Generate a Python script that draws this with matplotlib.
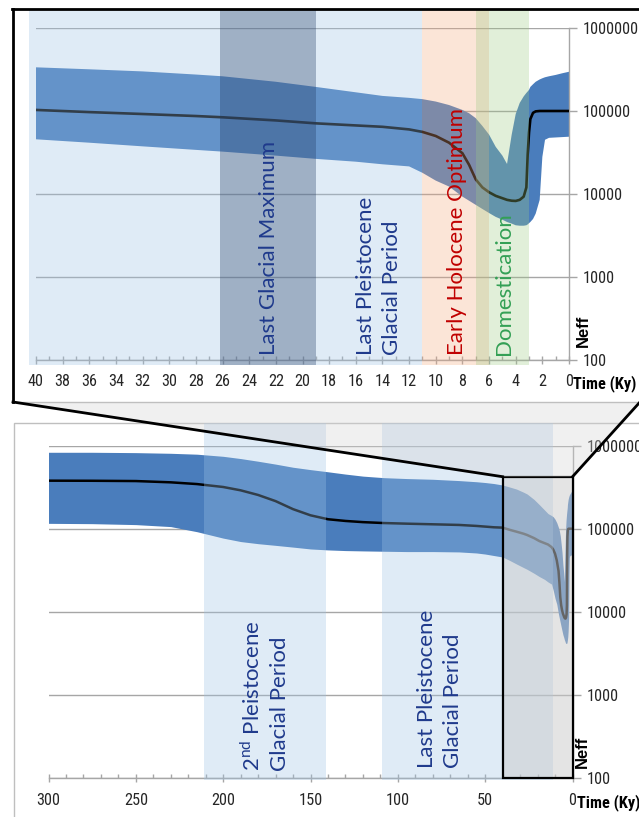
import numpy as np
import matplotlib
matplotlib.use("Agg")
import matplotlib.pyplot as plt
from matplotlib import font_manager
from matplotlib.patches import Rectangle, Polygon
from matplotlib.lines import Line2D
from matplotlib.ticker import FixedLocator, FixedFormatter, MultipleLocator, NullLocator

# ---------------------------------------------------------------- data
time_ky = [300, 275, 250, 230, 215, 200, 190, 180, 170, 160, 150, 140, 130, 120,
           108, 95, 80, 65, 55, 50, 45, 40, 36, 32, 28, 26, 22, 19, 16, 14, 12,
           11, 10, 9, 8, 7.5, 7, 6.5, 6, 5.5, 5, 4.65, 4.3, 4.0, 3.7, 3.4, 3.2,
           3.1, 3.0, 2.9, 2.7, 2.5, 2.2, 2.0, 1.8, 1.5, 1.0, 0.5, 0]

neff_mean = [379000, 378000, 375000, 362000, 345000, 318000, 290000, 255000,
             215000, 172000, 145000, 130000, 124000, 120000, 117000, 115000,
             113000, 111000, 108000, 106000, 104000, 103000, 97000, 92000,
             87000, 84000, 77000, 71000, 67000, 64500, 60000, 56000, 50000,
             41500, 31000, 22500, 15000, 12000, 10500, 9500, 8900, 8500, 8300,
             8250, 8500, 9300, 12000, 30000, 55000, 80000, 95000, 99000,
             100000, 100000, 100000, 100000, 100000, 100000, 100000]

neff_low = [116000, 115000, 112000, 106000, 92000, 77000, 70000, 66000, 63000,
            60000, 57000, 55500, 54500, 54000, 53500, 53000, 53000, 52500,
            51000, 49500, 47500, 45600, 41500, 37500, 34000, 32400, 29000,
            26500, 24500, 22800, 21500, 18000, 14500, 12300, 9300, 8300, 7400,
            6600, 5900, 5300, 4900, 4600, 4400, 4200, 4150, 4150, 4200, 4300,
            4450, 4600, 5000, 5800, 8500, 28000, 45000, 47500, 48000, 48500,
            49000]

neff_high = [833000, 833000, 825000, 810000, 790000, 745000, 700000, 650000,
             600000, 550000, 515000, 485000, 455000, 430000, 412000, 402000,
             394000, 380000, 368000, 360000, 350000, 336000, 318000, 300000,
             275000, 262000, 225000, 195000, 168000, 152000, 144000, 139000,
             130000, 118000, 103000, 94000, 82000, 66000, 52000, 37000, 29000,
             23000, 52000, 92000, 125000, 150000, 165000, 172000, 180000,
             195000, 210000, 225000, 240000, 248000, 255000, 262000, 272000,
             285000, 297000]

neff_ticks = [100, 1000, 10000, 100000, 1000000]
neff_tick_labels = ["100", "1000", "10000", "100000", "1000000"]

# climatic / cultural periods (ky before present)
glacial_2nd = (211, 141)
glacial_last = (109, 11)
glacial_last_zoom = (40.5, 11)
lgm = (26.2, 19)
holocene_opt = (11, 6)
domestication = (7, 3)
zoom_window = (40, 0)
zoom_window_top = 423000

# ---------------------------------------------------------------- style
W, H, DPI = 639, 817, 100
LABEL_FONT = ["Lato", "DejaVu Sans"]
plt.rcParams["mathtext.fontset"] = "custom"
plt.rcParams["mathtext.rm"] = "Lato"

# narrow face for axis numbers: use a true narrow/condensed face when present
_names = {f.name for f in font_manager.fontManager.ttflist}
_narrow = None
for cand in ("Liberation Sans Narrow", "Arial Narrow", "Roboto Condensed",
             "Open Sans Condensed", "DejaVu Sans Condensed"):
    if cand in _names:
        _narrow = cand
        break
if _narrow is not None:
    NUM_FAMILY, NUM_SIZE = [_narrow, "DejaVu Sans"], 11.7
else:
    NUM_FAMILY, NUM_SIZE = ["Liberation Sans", "DejaVu Sans"], 10.5

FILL = "#4a7dbc"
GLACIAL = "#9dc3e6"
LGM = "#1f3864"
HOLO = "#f5a97d"
DOM = "#9eca84"
GRID = "#a6a6a6"
NAVY = "#1f3a8c"
TXT = "#262626"


def fig_xy(x, y):
    return x / W, 1 - y / H


def num_props(bold=False):
    return font_manager.FontProperties(family=NUM_FAMILY, size=NUM_SIZE,
                                       weight="bold" if bold else "normal")


fig = plt.figure(figsize=(W / DPI, H / DPI), dpi=DPI)
fig.patch.set_facecolor("white")


def make_axes(left, right, top, bottom, xpad):
    ax = fig.add_axes([left / W, 1 - bottom / H, (right - left) / W, (bottom - top) / H])
    ax.set_facecolor("none")
    ax.set_yscale("log")
    ax.set_ylim(100, 1e6)
    for s in ("top", "left"):
        ax.spines[s].set_visible(False)
    for s in ("right", "bottom"):
        ax.spines[s].set_color(GRID)
        ax.spines[s].set_linewidth(1.0)
    ax.yaxis.tick_right()
    ax.yaxis.set_major_locator(FixedLocator(neff_ticks))
    ax.yaxis.set_major_formatter(FixedFormatter(neff_tick_labels))
    ax.yaxis.set_minor_locator(NullLocator())
    ax.yaxis.grid(True, color=GRID, lw=1.0)
    ax.set_axisbelow(True)
    ax.tick_params(axis="y", which="major", direction="out", length=6,
                   color=GRID, width=1.0, pad=4, labelcolor=TXT)
    ax.tick_params(axis="x", which="major", direction="inout", length=6,
                   color=GRID, width=1.0, pad=xpad, labelcolor=TXT)
    ax.tick_params(axis="x", which="minor", direction="in", length=3,
                   color=GRID, width=1.0)
    return ax


def style_numbers(ax):
    for lab in ax.get_xticklabels() + ax.get_yticklabels():
        lab.set_fontproperties(num_props())


def span(ax, rng, color, alpha, ylo, yhi, z=4):
    ax.axvspan(rng[0], rng[1], ymin=ylo, ymax=yhi, color=color, alpha=alpha,
               lw=0, zorder=z, clip_on=False)


# ---------------------------------------------------------------- bottom panel (300 ky)
ax_b = make_axes(48.5, 572.5, 445.7, 777.7, xpad=8)
ax_b.set_xlim(300, 0)
ax_b.xaxis.set_major_locator(MultipleLocator(50))
ax_b.xaxis.set_minor_locator(MultipleLocator(10))
style_numbers(ax_b)
ax_b.fill_between(time_ky, neff_low, neff_high, color=FILL, lw=0, zorder=2)
ax_b.plot(time_ky, neff_mean, color="black", lw=1.8, zorder=3)
span(ax_b, glacial_2nd, GLACIAL, 0.32, -0.007, 1.068)
span(ax_b, glacial_last, GLACIAL, 0.32, -0.007, 1.068)
ax_b.add_patch(Rectangle((zoom_window[1], 100), zoom_window[0] - zoom_window[1],
                         zoom_window_top - 100, facecolor="#cbcbcb", alpha=0.5,
                         edgecolor="none", zorder=5, clip_on=False))
ax_b.add_patch(Rectangle((zoom_window[1], 100), zoom_window[0] - zoom_window[1],
                         zoom_window_top - 100, facecolor="none",
                         edgecolor="black", lw=1.6, zorder=6, clip_on=False))
ax_b.text(175.8, 120, "2$^{\\mathrm{nd}}$ Pleistocene\nGlacial Period", rotation=90,
          ha="center", va="bottom", multialignment="left", color=NAVY,
          fontsize=16, family=LABEL_FONT, linespacing=1.35, zorder=7)
ax_b.text(75.8, 131, "Last Pleistocene\nGlacial Period", rotation=90,
          ha="center", va="bottom", multialignment="left", color=NAVY,
          fontsize=16, family=LABEL_FONT, linespacing=1.35, zorder=7)

# ---------------------------------------------------------------- top panel (40 ky zoom)
ax_t = make_axes(36, 569, 28, 360, xpad=7)
ax_t.set_xlim(40, 0)
ax_t.xaxis.set_major_locator(MultipleLocator(2))
ax_t.xaxis.set_minor_locator(MultipleLocator(1))
style_numbers(ax_t)
ax_t.fill_between(time_ky, neff_low, neff_high, color=FILL, lw=0, zorder=2)
ax_t.plot(time_ky, neff_mean, color="black", lw=1.9, zorder=3)
span(ax_t, glacial_last_zoom, GLACIAL, 0.32, -0.015, 1.057)
span(ax_t, lgm, LGM, 0.33, -0.015, 1.057, z=5)
span(ax_t, holocene_opt, HOLO, 0.3, -0.015, 1.057)
span(ax_t, domestication, DOM, 0.3, -0.015, 1.057, z=5)
ax_t.text(22.55, 115, "Last Glacial Maximum", rotation=90, ha="center",
          va="bottom", color=NAVY, fontsize=16, family=LABEL_FONT, zorder=7)
ax_t.text(14.25, 115, "Last Pleistocene\nGlacial Period", rotation=90,
          ha="center", va="bottom", multialignment="left", color=NAVY,
          fontsize=16, family=LABEL_FONT, linespacing=1.35, zorder=7)
ax_t.text(8.4, 115, "Early Holocene Optimum", rotation=90, ha="center",
          va="bottom", color="#c00000", fontsize=16, family=LABEL_FONT, zorder=7)
ax_t.text(4.9, 115, "Domestication", rotation=90, ha="center",
          va="bottom", color="#33a055", fontsize=16, family=LABEL_FONT, zorder=7)

# axis titles
for (x, y) in ((573, 384), (577, 803)):
    fig.text(*fig_xy(x, y), "Time (Ky)", ha="left", va="center",
             color="black", fontproperties=num_props(bold=True))
for (x, y) in ((583, 347), (582, 768)):
    fig.text(*fig_xy(x, y), "Neff", ha="center", va="bottom", rotation=90,
             fontsize=12, fontweight="bold", family=["Liberation Sans", "DejaVu Sans"],
             color="black")

# ---------------------------------------------------------------- frames and callout
fig.add_artist(Rectangle(fig_xy(14, 830), (660 - 14) / W, (830 - 423) / H,
                         transform=fig.transFigure, facecolor="none",
                         edgecolor="#bfbfbf", lw=1.0, zorder=-1))
fig.canvas.draw()
inv = fig.transFigure.inverted()
corner_l = inv.transform(ax_b.transData.transform((zoom_window[0], zoom_window_top)))
corner_r = inv.transform(ax_b.transData.transform((zoom_window[1], zoom_window_top)))
frame_bl = fig_xy(13, 402)
frame_br = fig_xy(640, 402)
fig.add_artist(Polygon([frame_bl, frame_br, corner_r, corner_l], closed=True,
                       transform=fig.transFigure, facecolor="#d4d4d4",
                       alpha=0.35, edgecolor="none", zorder=8))
fig.add_artist(Line2D([frame_bl[0], frame_br[0]], [frame_bl[1], frame_br[1]],
                      transform=fig.transFigure, color="#bfbfbf", lw=1.0, zorder=8))
dx = corner_r[0] - frame_br[0]
dy = corner_r[1] - frame_br[1]
far_r = (frame_br[0] - 0.1 * dx, frame_br[1] - 0.1 * dy)
for seg in ([fig_xy(13, 9), fig_xy(13, 402)],
            [fig_xy(12, 9), fig_xy(660, 9)],
            [frame_bl, tuple(corner_l)],
            [tuple(corner_r), far_r]):
    fig.add_artist(Line2D([seg[0][0], seg[1][0]], [seg[0][1], seg[1][1]],
                          transform=fig.transFigure, color="black", lw=2.0,
                          solid_capstyle="projecting", zorder=9))

fig.savefig("out.png", dpi=DPI)
